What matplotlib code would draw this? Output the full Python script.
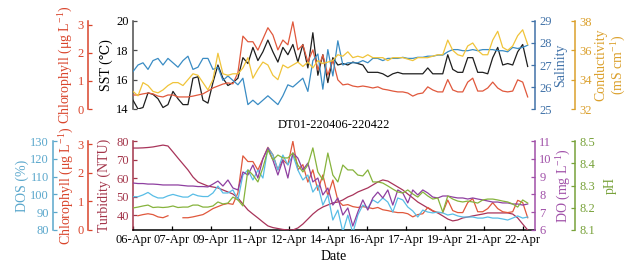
import numpy as np
import matplotlib
matplotlib.use('Agg')
import matplotlib.pyplot as plt

plt.rcParams['font.family'] = ['Liberation Serif', 'DejaVu Serif']
plt.rcParams['mathtext.fontset'] = 'custom'
plt.rcParams['mathtext.rm'] = 'Liberation Serif'
plt.rcParams['mathtext.it'] = 'Liberation Serif:italic'
plt.rcParams['mathtext.bf'] = 'Liberation Serif:bold'

# ---------------- data ----------------
date_labels = ['06-Apr', '07-Apr', '09-Apr', '11-Apr', '12-Apr', '14-Apr',
               '16-Apr', '17-Apr', '19-Apr', '21-Apr', '22-Apr']
title_text = 'DT01-220406-220422'
t_end = 16.2      # days after start of last sample
x_max = 16.5      # right limit of the time axis (days)
tick_step = 1.6   # days between date ticks

# top panel
sst = [14.6, 14.0, 14.1, 15.1, 15.0, 14.7, 14.1, 14.3, 15.2, 14.7, 14.3, 14.3, 16.1, 16.2,
       14.6, 14.4, 15.8, 17.0, 16.1, 15.6, 15.8, 16.1, 17.5, 17.1, 18.2, 17.3, 17.9, 18.7,
       17.9, 17.2, 18.2, 17.7, 18.4, 17.2, 18.4, 16.8, 19.2, 16.3, 17.7, 15.8, 17.5, 17.0,
       17.1, 17.0, 17.2, 17.1, 17.0, 16.5, 16.5, 16.5, 16.4, 16.2, 16.4, 16.5, 16.4,
       16.4, 16.4, 16.4, 16.4, 16.8, 16.4, 16.4, 16.4, 17.7, 16.7, 16.5, 16.5, 17.5, 17.5,
       16.5, 16.5, 16.4, 17.5, 18.2, 17.0, 17.1, 17.0, 17.9, 18.4, 16.9]
salinity = [26.7, 27.0, 27.1, 26.8, 27.2, 27.3, 27.0, 27.3, 27.1, 26.9, 27.2, 27.4, 26.8, 26.9,
            27.3, 27.3, 26.8, 26.9, 26.3, 26.5, 26.3, 26.1, 26.4, 25.2, 25.4, 25.2, 25.4, 25.6,
            25.4, 25.2, 25.6, 26.1, 26.0, 26.2, 26.4, 25.8, 27.2, 27.5, 25.9, 27.7, 26.5, 28.1,
            27.0, 27.1, 27.1, 27.1, 27.2, 27.1, 27.3, 27.3, 27.2, 27.3, 27.3, 27.3, 27.35,
            27.3, 27.3, 27.35, 27.35, 27.4, 27.4, 27.45, 27.45, 27.6, 27.7, 27.7, 27.65, 27.65,
            27.7, 27.65, 27.7, 27.7, 27.7, 27.65, 27.65, 27.6, 27.8, 27.75, 27.8, 27.9]
conductivity = [33.2, 32.9, 33.8, 33.6, 33.2, 33.1, 33.3, 33.6, 33.8, 33.8, 33.6, 34.0, 34.4, 34.3,
                33.8, 33.3, 34.0, 35.8, 34.4, 34.3, 34.4, 34.4, 34.8, 35.5, 34.1, 34.7, 35.2, 35.0,
                34.3, 34.0, 35.0, 34.8, 35.0, 35.2, 34.9, 35.2, 34.8, 35.3, 35.1, 35.2, 35.3, 35.7,
                35.6, 35.9, 35.5, 35.6, 35.5, 35.7, 35.5, 35.5, 35.5, 35.3, 35.5, 35.5, 35.5,
                35.4, 35.3, 35.5, 35.5, 35.5, 35.6, 35.7, 35.7, 36.7, 36.0, 35.7, 35.6, 36.3, 36.5,
                36.0, 35.7, 35.7, 36.7, 37.3, 36.2, 36.0, 36.3, 37.0, 37.4, 36.4]
chlorophyll = [0.50, 0.50, 0.54, 0.57, 0.54, 0.46, 0.43, 0.50, 0.50, 0.43, 0.43, 0.43, 0.46, 0.50,
               0.54, 0.64, 0.75, 0.82, 0.89, 0.93, 0.90, 1.30, 2.60, 2.40, 2.40, 2.10, 2.50, 2.90,
               2.64, 2.11, 2.46, 2.29, 3.11, 2.11, 2.29, 1.68, 2.11, 1.39, 1.93, 1.21, 1.75, 1.04,
               0.86, 0.89, 0.82, 0.79, 0.82, 0.79, 0.75, 0.79, 0.71, 0.68, 0.64, 0.61, 0.61,
               0.57, 0.46, 0.54, 0.57, 0.79, 0.68, 0.61, 0.61, 1.05, 0.68, 0.61, 0.61, 0.96, 1.10,
               0.64, 0.64, 0.75, 0.96, 0.75, 0.64, 0.61, 0.64, 1.04, 0.96, 0.43]
chl_gap_idx = [0, 8, 9]   # samples missing in the lower panel record

# bottom panel
turbidity = [76.2, 76.2, 76.3, 76.5, 76.8, 77.3, 77.8, 77.3, 74.1, 70.8, 67.6, 64.4, 60.6, 57.9,
             56.8, 55.7, 55.2, 54.7, 53.6, 52.5, 51.4, 49.3, 46.0, 42.8, 40.6, 38.5, 36.3, 34.2,
             33.3, 32.8, 32.3, 32.0, 32.0, 33.1, 35.2, 37.9, 40.6, 42.8, 44.4, 45.5, 46.6, 47.1,
             48.2, 49.8, 50.9, 52.5, 53.6, 54.7, 56.3, 57.9, 59.0, 58.4, 56.8, 55.2, 53.6,
             51.4, 49.3, 47.1, 45.5, 43.9, 42.2, 41.2, 39.6, 37.9, 36.9, 37.4, 38.5, 39.0, 39.6,
             40.1, 40.6, 41.2, 41.2, 41.2, 41.2, 41.2, 40.6, 38.5, 35.2, 32.0]
do = [8.64, 8.61, 8.61, 8.58, 8.58, 8.56, 8.53, 8.53, 8.53, 8.53, 8.50, 8.47, 8.47, 8.44,
      8.44, 8.42, 8.58, 8.75, 8.47, 8.81, 8.36, 8.25, 9.26, 9.09, 9.65, 8.92, 10.0, 10.61,
      9.93, 9.09, 9.93, 8.92, 10.33, 10.04, 9.37, 9.76, 8.70, 8.92, 7.97, 8.36, 7.40, 7.80,
      6.84, 7.24, 6.22, 7.01, 7.69, 7.12, 7.80, 8.13, 7.80, 8.25, 7.40, 8.25, 8.08,
      7.52, 8.25, 7.97, 8.25, 8.08, 7.85, 7.80, 7.91, 7.91, 7.85, 7.80, 7.80, 7.74, 7.80,
      7.74, 7.69, 7.63, 7.57, 7.57, 7.52, 7.52, 7.46, 7.46, 7.40, 7.46]
dos = [98.7, 98.7, 99.7, 101.1, 99.2, 98.0, 98.0, 99.2, 100.0, 99.2, 98.5, 98.5, 100.2, 99.2,
       98.8, 98.8, 100.8, 104.7, 100.8, 100.8, 102.5, 96.9, 110.9, 113.7, 108.1, 113.7, 109.2, 126.1,
       122.1, 113.7, 122.1, 116.5, 122.1, 113.7, 108.1, 110.9, 101.3, 105.3, 94.0, 99.7, 85.6, 91.2,
       78.9, 88.4, 78.3, 88.4, 94.0, 92.4, 96.9, 95.2, 98.0, 95.7, 90.1, 98.0, 96.9,
       92.9, 90.7, 87.3, 91.2, 90.1, 89.6, 90.1, 89.6, 88.4, 89.0, 87.9, 87.3, 87.3, 87.3,
       86.7, 86.7, 87.3, 86.7, 86.7, 86.2, 85.6, 86.7, 87.9, 86.7, 87.3]
ph = [8.199, 8.203, 8.208, 8.212, 8.201, 8.203, 8.201, 8.203, 8.208, 8.201, 8.203, 8.203, 8.212, 8.212,
      8.203, 8.203, 8.208, 8.226, 8.217, 8.221, 8.248, 8.235, 8.208, 8.370, 8.347, 8.316, 8.379, 8.460,
      8.415, 8.437, 8.424, 8.424, 8.446, 8.392, 8.361, 8.392, 8.469, 8.361, 8.325, 8.446, 8.347, 8.316,
      8.392, 8.370, 8.370, 8.347, 8.343, 8.370, 8.316, 8.316, 8.311, 8.298, 8.284, 8.271, 8.266,
      8.280, 8.262, 8.248, 8.271, 8.253, 8.239, 8.244, 8.181, 8.253, 8.239, 8.230, 8.226, 8.230, 8.226,
      8.221, 8.235, 8.239, 8.239, 8.235, 8.230, 8.226, 8.217, 8.203, 8.235, 8.221]

# ---------------- style ----------------
C_SST_AX, C_SST = '#4d4d4d', '#1e1e1e'
C_CHL_AX, C_CHL = '#d9442b', '#e0583c'
C_SAL_AX, C_SAL = '#4172a8', '#3a8cc4'
C_CON_AX, C_CON = '#dba02c', '#f0c43a'
C_DOS_AX, C_DOS = '#5aa7cc', '#58bde6'
C_TUR_AX, C_TUR = '#a3354a', '#a8345a'
C_DO_AX, C_DO = '#a050a8', '#8e3fa0'
C_PH_AX, C_PH = '#78a23a', '#86b33c'
TICK_FS = 9
LAB_FS = 10
LW = 0.9

W, H = 639, 269
AX_L, AX_R = 133, 535


def rect(x0, y0, x1, y1):
    return [x0 / W, 1 - y1 / H, (x1 - x0) / W, (y1 - y0) / H]


def px2pt(p):
    return p * 72.0 / 100.0


def style_axis(a, side, offset_px, color, ylim, ticks, labelcolor=None):
    for s in a.spines.values():
        s.set_visible(False)
    sp = a.spines[side]
    sp.set_visible(True)
    sp.set_position(('outward', px2pt(offset_px)))
    sp.set_color(color)
    sp.set_linewidth(1.1)
    a.yaxis.set_ticks_position(side)
    a.yaxis.set_label_position(side)
    a.set_ylim(*ylim)
    a.set_yticks(ticks)
    a.tick_params(axis='y', direction='in', length=3, width=0.9, color=color,
                  labelcolor=labelcolor or color, labelsize=TICK_FS, pad=3)
    a.patch.set_visible(False)


def set_label(a, text, xpx, color):
    a.set_ylabel(text, color=color, fontsize=LAB_FS, linespacing=1.15)
    a.yaxis.set_label_coords((xpx - AX_L) / (AX_R - AX_L), 0.5)
    a.yaxis.label.set_verticalalignment('center')


fig = plt.figure(figsize=(6.39, 2.69), dpi=100)

n = len(sst)
t = np.linspace(0, t_end, n)
tick_pos = np.arange(len(date_labels)) * tick_step

# ---------------- top panel ----------------
ax1 = fig.add_axes(rect(AX_L, 21, AX_R, 109))
ax1.set_xlim(0, x_max)
style_axis(ax1, 'left', 0, C_SST_AX, (14, 20), [14, 16, 18, 20], labelcolor='black')
ax1.set_xticks([])
ax1.patch.set_visible(True)
set_label(ax1, 'SST (℃)', 106, 'black')

ax1_chl = ax1.twinx()
style_axis(ax1_chl, 'left', AX_L - 88, C_CHL_AX, (0, 3.14), [0, 1, 2, 3])
set_label(ax1_chl, 'Chlorophyll (μg L$^{-1}$)', 66, C_CHL_AX)

ax1_sal = ax1.twinx()
style_axis(ax1_sal, 'right', 0, C_SAL_AX, (25, 29), [25, 26, 27, 28, 29])
set_label(ax1_sal, 'Salinity', 561, C_SAL_AX)

ax1_con = ax1.twinx()
style_axis(ax1_con, 'right', 575 - AX_R, C_CON_AX, (32, 38), [32, 34, 36, 38])
set_label(ax1_con, 'Conductivity\n(mS cm$^{-1}$)', 611, C_CON_AX)

ax1_chl.plot(t, chlorophyll, color=C_CHL, lw=LW)
ax1_con.plot(t, conductivity, color=C_CON, lw=LW)
ax1.plot(t, sst, color=C_SST, lw=LW, zorder=3)
ax1_sal.plot(t, salinity, color=C_SAL, lw=LW)
for a in (ax1_chl, ax1_sal, ax1_con):
    a.set_xlim(0, x_max)

fig.text((AX_L + AX_R) / 2 / W, 1 - 125 / H, title_text, ha='center', va='center',
         fontsize=TICK_FS)

# ---------------- bottom panel ----------------
ax2 = fig.add_axes(rect(AX_L, 141, AX_R, 230))
ax2.set_xlim(0, x_max)
style_axis(ax2, 'left', 0, C_TUR_AX, (32, 80), [40, 50, 60, 70, 80])
ax2.patch.set_visible(True)
ax2.spines['bottom'].set_visible(True)
ax2.spines['bottom'].set_color('black')
ax2.spines['bottom'].set_linewidth(1.1)
ax2.set_xticks(tick_pos)
ax2.set_xticklabels(date_labels)
ax2.tick_params(axis='x', direction='in', length=3, width=0.9, labelsize=TICK_FS, pad=3)
set_label(ax2, 'Turbidity (NTU)', 104, C_TUR_AX)
ax2.set_xlabel('Date', fontsize=LAB_FS)
ax2.xaxis.set_label_coords(0.5, -(257 - 230) / 89)
ax2.xaxis.label.set_verticalalignment('center')

ax2_chl = ax2.twinx()
style_axis(ax2_chl, 'left', AX_L - 88, C_CHL_AX, (0, 3.12), [0, 1, 2, 3])
set_label(ax2_chl, 'Chlorophyll (μg L$^{-1}$)', 67, C_CHL_AX)

ax2_dos = ax2.twinx()
style_axis(ax2_dos, 'left', AX_L - 53, C_DOS_AX, (80, 130), [80, 90, 100, 110, 120, 130])
set_label(ax2_dos, 'DOS (%)', 22, C_DOS_AX)

ax2_do = ax2.twinx()
style_axis(ax2_do, 'right', 0, C_DO_AX, (6, 11), [6, 7, 8, 9, 10, 11])
set_label(ax2_do, 'DO (mg L$^{-1}$)', 564, C_DO_AX)

ax2_ph = ax2.twinx()
style_axis(ax2_ph, 'right', 575 - AX_R, C_PH_AX, (8.1, 8.5), [8.1, 8.2, 8.3, 8.4, 8.5])
set_label(ax2_ph, 'pH', 610, C_PH_AX)

chl_low = np.array(chlorophyll, dtype=float)
chl_low[chl_gap_idx] = np.nan

ax2.plot(t, turbidity, color=C_TUR, lw=LW, zorder=3)
ax2_ph.plot(t, ph, color=C_PH, lw=LW)
ax2_chl.plot(t, chl_low, color=C_CHL, lw=LW)
ax2_dos.plot(t, dos, color=C_DOS, lw=LW)
ax2_do.plot(t, do, color=C_DO, lw=LW)
for a in (ax2_chl, ax2_dos, ax2_do, ax2_ph):
    a.set_xlim(0, x_max)

fig.savefig('out.png', dpi=100)
